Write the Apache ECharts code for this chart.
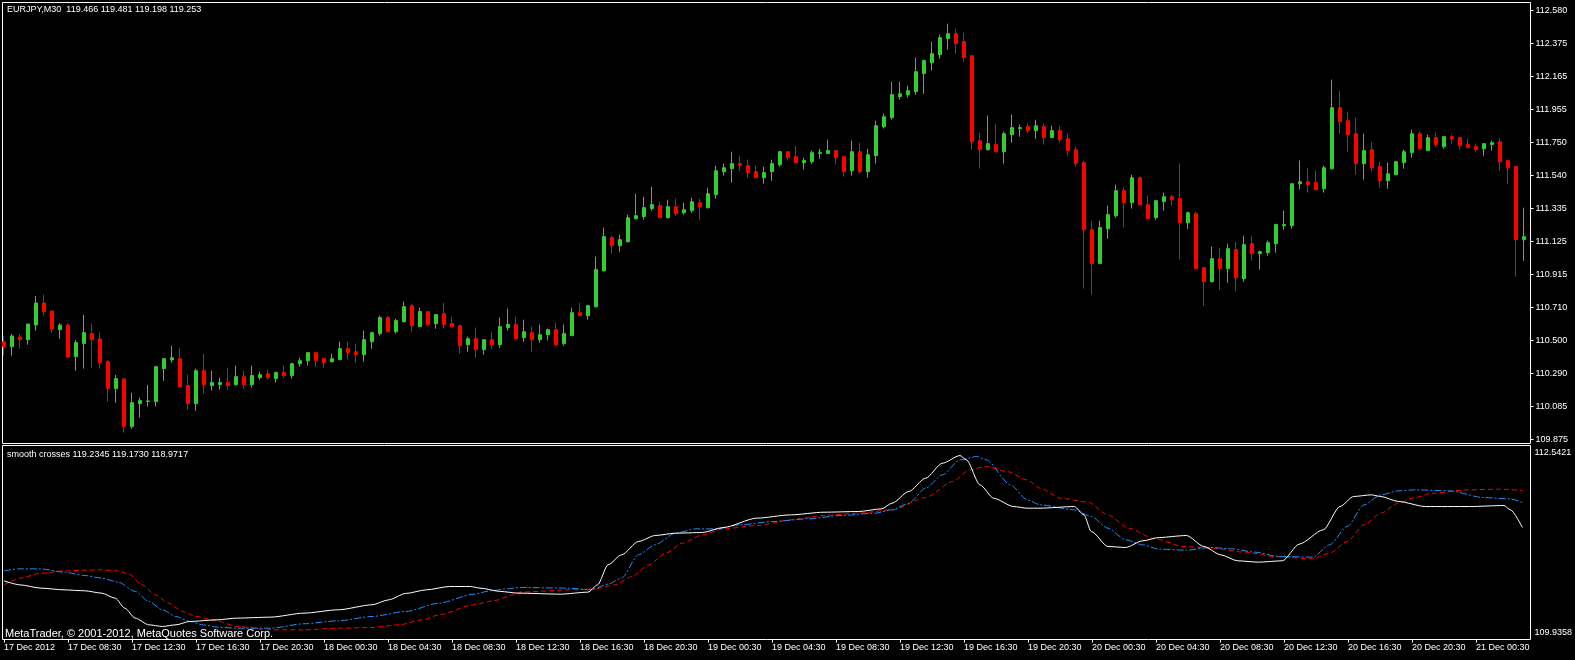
<!DOCTYPE html>
<html>
<head>
<meta charset="utf-8">
<script src="https://cdn.jsdelivr.net/npm/echarts@6/dist/echarts.min.js"></script>
<style>
html,body{margin:0;padding:0;background:#000;}
#main{width:1575px;height:660px;}
</style>
</head>
<body>
<div id="main"></div>
<script>
// EURJPY M30 bars: [open, close, low, high]
const candles = [
[110.491,110.460,110.403,110.527],[110.460,110.527,110.403,110.540],[110.521,110.504,110.447,110.540],[110.504,110.603,110.472,110.603],
[110.596,110.735,110.561,110.779],[110.735,110.681,110.655,110.788],[110.685,110.571,110.548,110.685],[110.567,110.596,110.510,110.607],
[110.596,110.394,110.390,110.607],[110.397,110.485,110.308,110.502],[110.479,110.548,110.321,110.660],[110.542,110.504,110.327,110.603],
[110.508,110.359,110.321,110.552],[110.365,110.195,110.113,110.376],[110.195,110.258,110.106,110.281],[110.256,109.955,109.917,110.262],
[109.955,110.106,109.942,110.169],[110.100,110.119,110.012,110.138],[110.113,110.117,110.081,110.218],[110.113,110.333,110.081,110.340],
[110.321,110.384,110.245,110.384],[110.376,110.390,110.359,110.466],[110.384,110.207,110.201,110.453],[110.214,110.100,110.062,110.283],
[110.100,110.308,110.056,110.321],[110.308,110.220,110.163,110.416],[110.214,110.233,110.182,110.308],[110.220,110.233,110.188,110.264],
[110.233,110.214,110.188,110.327],[110.220,110.270,110.214,110.340],[110.270,110.220,110.195,110.308],[110.220,110.277,110.201,110.340],
[110.264,110.283,110.251,110.302],[110.289,110.264,110.251,110.315],[110.258,110.296,110.233,110.302],[110.296,110.277,110.264,110.340],
[110.277,110.352,110.258,110.359],[110.352,110.371,110.333,110.390],[110.371,110.422,110.340,110.422],[110.422,110.371,110.333,110.428],
[110.384,110.359,110.327,110.390],[110.365,110.384,110.359,110.416],[110.378,110.447,110.378,110.491],[110.447,110.422,110.378,110.491],
[110.428,110.409,110.359,110.479],[110.409,110.504,110.365,110.561],[110.491,110.548,110.447,110.554],[110.542,110.643,110.529,110.655],
[110.643,110.554,110.548,110.655],[110.554,110.624,110.542,110.636],[110.617,110.712,110.611,110.744],[110.718,110.592,110.554,110.731],
[110.586,110.681,110.586,110.706],[110.681,110.599,110.586,110.681],[110.605,110.662,110.573,110.662],[110.668,110.599,110.573,110.737],
[110.605,110.586,110.580,110.649],[110.592,110.466,110.416,110.599],[110.472,110.510,110.428,110.523],[110.510,110.441,110.390,110.580],
[110.441,110.504,110.409,110.504],[110.504,110.472,110.447,110.554],[110.472,110.586,110.453,110.643],[110.580,110.599,110.561,110.700],
[110.599,110.510,110.504,110.649],[110.517,110.554,110.491,110.630],[110.548,110.504,110.428,110.586],[110.504,110.535,110.485,110.599],
[110.535,110.567,110.498,110.573],[110.567,110.472,110.466,110.611],[110.479,110.542,110.466,110.599],[110.529,110.674,110.529,110.706],
[110.674,110.655,110.655,110.737],[110.655,110.718,110.630,110.725],[110.712,110.946,110.706,111.028],[110.939,111.154,110.933,111.211],
[111.148,111.097,111.047,111.160],[111.097,111.135,111.059,111.167],[111.122,111.274,111.116,111.293],[111.268,111.286,111.261,111.425],
[111.280,111.337,111.261,111.406],[111.331,111.356,111.318,111.469],[111.350,111.274,111.268,111.375],[111.274,111.343,111.268,111.387],
[111.343,111.299,111.286,111.394],[111.305,111.324,111.293,111.368],[111.318,111.375,111.305,111.400],[111.368,111.343,111.261,111.394],
[111.337,111.425,111.331,111.463],[111.419,111.570,111.394,111.602],[111.564,111.589,111.539,111.615],[111.583,111.615,111.495,111.690],
[111.615,111.602,111.570,111.665],[111.602,111.558,111.526,111.640],[111.564,111.526,111.526,111.602],[111.526,111.558,111.488,111.596],
[111.564,111.615,111.507,111.640],[111.608,111.690,111.596,111.697],[111.690,111.652,111.634,111.690],[111.659,111.621,111.615,111.728],
[111.621,111.634,111.577,111.652],[111.627,111.684,111.615,111.697],[111.678,111.684,111.646,111.709],[111.678,111.697,111.678,111.766],
[111.697,111.652,111.608,111.703],[111.659,111.564,111.533,111.665],[111.570,111.690,111.539,111.760],[111.690,111.564,111.551,111.747],
[111.564,111.671,111.526,111.709],[111.665,111.854,111.615,111.886],[111.848,111.911,111.836,111.930],[111.905,112.050,111.892,112.132],
[112.037,112.056,112.019,112.132],[112.050,112.075,112.031,112.107],[112.069,112.195,112.050,112.284],[112.183,112.265,112.056,112.271],
[112.252,112.309,112.202,112.385],[112.303,112.410,112.277,112.429],[112.404,112.435,112.334,112.498],[112.435,112.372,112.309,112.467],
[112.385,112.284,112.258,112.441],[112.296,111.753,111.703,112.296],[111.760,111.703,111.583,111.810],[111.703,111.741,111.697,111.918],
[111.735,111.690,111.684,111.867],[111.690,111.804,111.615,111.817],[111.798,111.842,111.747,111.924],[111.836,111.842,111.785,111.861],
[111.848,111.823,111.810,111.867],[111.823,111.854,111.772,111.892],[111.848,111.779,111.735,111.867],[111.779,111.823,111.779,111.854],
[111.823,111.766,111.747,111.854],[111.772,111.697,111.665,111.804],[111.703,111.615,111.596,111.722],[111.621,111.198,110.826,111.634],
[111.198,110.984,110.788,111.255],[110.984,111.211,110.984,111.255],[111.204,111.293,111.141,111.350],[111.286,111.444,111.274,111.482],
[111.444,111.368,111.211,111.463],[111.368,111.526,111.331,111.545],[111.526,111.356,111.350,111.533],[111.356,111.268,111.261,111.413],
[111.274,111.381,111.261,111.387],[111.375,111.406,111.318,111.432],[111.406,111.387,111.350,111.419],[111.394,111.242,111.009,111.615],
[111.242,111.305,111.204,111.312],[111.299,110.952,110.952,111.312],[110.958,110.870,110.718,110.965],[110.870,111.015,110.864,111.091],
[111.015,110.952,110.819,111.084],[110.952,111.078,110.864,111.110],[111.072,110.895,110.807,111.122],[110.889,111.103,110.870,111.160],
[111.110,111.047,111.002,111.160],[111.047,111.059,110.946,111.066],[111.053,111.116,111.034,111.129],[111.110,111.230,111.053,111.236],
[111.223,111.230,111.198,111.318],[111.223,111.488,111.204,111.488],[111.488,111.501,111.451,111.634],[111.501,111.482,111.432,111.589],
[111.495,111.451,111.444,111.570],[111.457,111.589,111.432,111.602],[111.583,111.968,111.577,112.145],[111.968,111.880,111.804,112.075],
[111.886,111.798,111.690,111.943],[111.804,111.615,111.545,111.905],[111.615,111.697,111.514,111.804],[111.703,111.589,111.564,111.753],
[111.596,111.507,111.463,111.627],[111.507,111.551,111.457,111.621],[111.545,111.627,111.545,111.634],[111.621,111.690,111.583,111.703],
[111.684,111.804,111.652,111.829],[111.804,111.709,111.697,111.817],[111.697,111.779,111.697,111.798],[111.779,111.735,111.722,111.810],
[111.722,111.785,111.709,111.791],[111.785,111.772,111.741,111.798],[111.779,111.728,111.703,111.779],[111.735,111.716,111.709,111.772],
[111.722,111.703,111.690,111.741],[111.709,111.741,111.665,111.741],[111.735,111.747,111.697,111.760],[111.753,111.627,111.570,111.772],
[111.634,111.589,111.488,111.640],[111.596,111.135,110.901,111.596],[111.135,111.154,111.002,111.337]
];

// smooth crosses indicator, read at [bar position, value]
const whiteLine = [
[0,110.724],[2,110.670],[4.6,110.626],[7.5,110.603],[10.1,110.590],[12.2,110.559],[13.9,110.491],[15.1,110.357],[16.4,110.223],
[18.1,110.133],[19.8,110.111],[21.5,110.133],[23.2,110.178],[26.6,110.200],[29.1,110.223],[33.3,110.236],[37.5,110.290],[41.8,110.335],
[46,110.402],[48.1,110.469],[50.2,110.554],[52.8,110.603],[55.7,110.648],[58.3,110.648],[59.5,110.626],[62.1,110.581],[64.2,110.559],
[69.6,110.545],[73,110.572],[74.2,110.670],[75.5,110.939],[77.2,111.073],[79.3,111.252],[81.4,111.333],[83.9,111.364],[87.3,111.373],
[89.9,111.440],[94.1,111.566],[98.3,111.610],[102.5,111.646],[106.8,111.655],[109.7,111.691],[111,111.767],[113.1,111.924],[115.2,112.103],
[117.3,112.304],[119.5,112.407],[120.3,112.349],[122,112.013],[123.7,111.834],[126.2,111.722],[127.9,111.700],[129.5,111.700],[133.8,111.722],
[135,111.610],[135.9,111.387],[138,111.185],[140.2,111.172],[142.3,111.261],[144.4,111.306],[147.8,111.333],[150,111.185],[152.1,111.073],
[154.2,110.993],[156.8,110.975],[159.8,110.993],[161.9,111.217],[164.9,111.409],[167,111.722],[168.7,111.857],[170.9,111.879],[172.1,111.857],
[174.3,111.790],[177.7,111.722],[183.2,111.722],[187.5,111.736],[188.3,111.678],[189.8,111.440]
];
const blueLine = [
[0,110.858],[2,110.885],[4.6,110.885],[7.5,110.841],[10.1,110.796],[12.2,110.760],[14.3,110.706],[16.4,110.581],[18.1,110.447],
[19.8,110.335],[21.5,110.245],[23.2,110.178],[24.9,110.133],[26.6,110.102],[29.1,110.088],[33.3,110.088],[37.5,110.147],[41.8,110.187],
[46,110.245],[50.2,110.312],[54.4,110.424],[58.7,110.545],[60.8,110.590],[62.9,110.617],[64.5,110.635],[70.4,110.626],[73.4,110.603],
[75.5,110.679],[77.2,110.760],[79.3,111.073],[81.4,111.208],[83.9,111.364],[86.5,111.422],[89,111.422],[92,111.476],[96.2,111.521],
[100.4,111.557],[104.7,111.602],[108.9,111.633],[111,111.678],[113.1,111.767],[115.2,111.969],[117.3,112.148],[119.5,112.349],[121.6,112.394],
[122.8,112.349],[125.8,112.013],[127.9,111.812],[129.5,111.745],[133.8,111.678],[135.9,111.588],[138,111.431],[140.2,111.275],[142.3,111.208],
[144.4,111.149],[147.8,111.136],[150.8,111.172],[153.4,111.154],[156.4,111.109],[159.3,111.051],[163.6,111.042],[165.7,111.208],[167.9,111.454],
[170,111.745],[172.1,111.879],[174.3,111.933],[176.4,111.946],[180.7,111.933],[184.9,111.843],[188.3,111.825],[189.8,111.776]
];
const redLine = [
[0,110.670],[2,110.760],[4.6,110.827],[7.5,110.858],[10.1,110.867],[12.2,110.872],[14.3,110.858],[15.6,110.814],[17.3,110.670],
[18.9,110.536],[20.6,110.424],[22.3,110.312],[24,110.245],[26.6,110.187],[29.1,110.111],[33.3,110.066],[37.5,110.066],[41.8,110.088],
[46,110.097],[49.4,110.133],[52.3,110.200],[54.4,110.268],[58.7,110.402],[61.2,110.456],[63.7,110.536],[64.5,110.572],[70.8,110.603],
[73.8,110.617],[76.3,110.670],[78.5,110.782],[80.6,110.939],[82.7,111.096],[84.8,111.230],[87.3,111.342],[89.9,111.422],[94.1,111.467],
[98.3,111.543],[102.5,111.602],[106.8,111.633],[111,111.678],[115.2,111.843],[118.6,112.058],[120.7,112.215],[122.8,112.260],[125.4,112.192],
[127.9,112.080],[129.5,111.969],[132.1,111.834],[135.5,111.781],[138,111.610],[140.6,111.431],[143.6,111.297],[147.4,111.185],[150.8,111.163],
[155.1,111.109],[159.3,111.046],[163.6,111.020],[165.7,111.096],[167.9,111.252],[170,111.476],[172.1,111.633],[174.3,111.767],[176.4,111.843],
[178.5,111.901],[182.8,111.946],[187,111.955],[189.8,111.937]
];

const timeLabels = ['17 Dec 2012','17 Dec 08:30','17 Dec 12:30','17 Dec 16:30','17 Dec 20:30','18 Dec 00:30','18 Dec 04:30','18 Dec 08:30',
  '18 Dec 12:30','18 Dec 16:30','18 Dec 20:30','19 Dec 00:30','19 Dec 04:30','19 Dec 08:30','19 Dec 12:30','19 Dec 16:30',
  '19 Dec 20:30','20 Dec 00:30','20 Dec 04:30','20 Dec 08:30','20 Dec 12:30','20 Dec 16:30','20 Dec 20:30','21 Dec 00:30'];
const priceLabels = ['109.875','110.085','110.290','110.500','110.710','110.915','111.125','111.335','111.540','111.750','111.955','112.165','112.375','112.580'];
const indLabels = ['109.9358','112.5421'];

const FONT = 'Liberation Sans';
const cats = candles.map(function (d, i) { return String(i); });
const every8 = function (i) { return i % 8 === 0; };
const txt = function (size) { return {color:'#ffffff', fontSize:size, fontWeight:'normal', fontFamily:FONT}; };

const chart = echarts.init(document.getElementById('main'));
chart.setOption({
    backgroundColor: '#000000',
    animation: false,
    title: [
        {text:'EURJPY,M30  119.466 119.481 119.198 119.253', left:7, top:5, padding:0, textStyle:txt(9)},
        {text:'smooth crosses 119.2345 119.1730 118.9717', left:7, top:450, padding:0, textStyle:txt(9)},
        {text:'MetaTrader, © 2001-2012, MetaQuotes Software Corp.', left:5, top:628, padding:0, textStyle:txt(11)}
    ],
    graphic: [
        {type:'rect', z:-1, shape:{x:2.5, y:2.5, width:1528, height:441}, style:{fill:null, stroke:'#ffffff', lineWidth:1}},
        {type:'rect', z:-1, shape:{x:2.5, y:445.5, width:1528, height:194}, style:{fill:null, stroke:'#ffffff', lineWidth:1}}
    ],
    grid: [
        {left:0, top:10.7, width:1528, height:428.6},
        {left:0, top:445.5, width:1528, height:194},
        {left:0, top:452.7, width:1528, height:179.6}
    ],
    xAxis: [
        {type:'category', gridIndex:0, data:cats, boundaryGap:true, show:false},
        {type:'category', gridIndex:1, data:cats, boundaryGap:true,
         axisLine:{show:false},
         axisTick:{show:true, alignWithLabel:true, interval:every8, length:3, lineStyle:{color:'#ffffff'}},
         axisLabel:{interval:every8, formatter:function (v) { return timeLabels[Number(v) / 8]; },
                    align:'left', margin:4, color:'#ffffff', fontSize:9, fontFamily:FONT},
         splitLine:{show:false}},
        {type:'value', gridIndex:1, min:-0.5, max:190.5, show:false},
        {type:'value', gridIndex:2, min:0, max:1, show:false}
    ],
    yAxis: [
        {type:'value', gridIndex:0, min:109.875, max:112.580, show:false},
        {type:'value', gridIndex:0, position:'right', offset:2.5, min:0, max:13, interval:1,
         axisLine:{show:false}, splitLine:{show:false},
         axisTick:{show:true, length:3, lineStyle:{color:'#ffffff'}},
         axisLabel:{formatter:function (v) { return priceLabels[v]; }, margin:5, color:'#ffffff', fontSize:9, fontFamily:FONT}},
        {type:'value', gridIndex:1, min:109.9358, max:112.5421, show:false},
        {type:'value', gridIndex:2, position:'right', offset:2.5, min:0, max:1, interval:1,
         axisLine:{show:false}, splitLine:{show:false}, axisTick:{show:false},
         axisLabel:{formatter:function (v) { return indLabels[v]; }, margin:5, color:'#ffffff', fontSize:9, fontFamily:FONT}}
    ],
    series: [
        {type:'candlestick', xAxisIndex:0, yAxisIndex:0, data:candles, barWidth:4,
         itemStyle:{color:'#32CD32', color0:'#FF0000', borderColor:'#32CD32', borderColor0:'#FF0000', borderWidth:1}},
        {type:'line', xAxisIndex:2, yAxisIndex:2, data:redLine, symbol:'none', smooth:0.25, smoothMonotone:'x',
         lineStyle:{color:'#FF0000', width:1, type:[5, 3]}},
        {type:'line', xAxisIndex:2, yAxisIndex:2, data:blueLine, symbol:'none', smooth:0.25, smoothMonotone:'x',
         lineStyle:{color:'#1E90FF', width:1, type:[7, 2, 2, 2]}},
        {type:'line', xAxisIndex:2, yAxisIndex:2, data:whiteLine, symbol:'none', smooth:0.25, smoothMonotone:'x',
         lineStyle:{color:'#FFFFFF', width:1}}
    ]
});
</script>
</body>
</html>
